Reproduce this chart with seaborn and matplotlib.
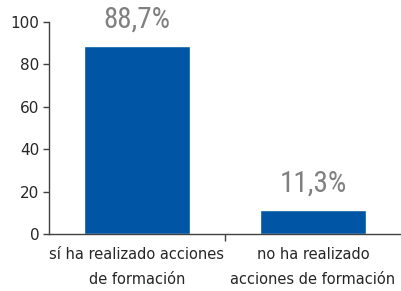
import matplotlib
matplotlib.use("Agg")
import matplotlib.pyplot as plt
import seaborn as sns

# Chart data
categories = ["sí ha realizado acciones\nde formación", "no ha realizado\nacciones de formación"]
values = [88.7, 11.3]
value_labels = ["88,7%", "11,3%"]
y_ticks = [0, 20, 40, 60, 80, 100]

sns.set_style("white")
plt.rcParams['font.family'] = ['DejaVu Sans']

fig = plt.figure(figsize=(4.01, 2.91), dpi=100)
ax = fig.add_axes([0.122, 0.196, 0.878, 0.728])

sns.barplot(x=categories, y=values, color="#0055a4", saturation=1, width=0.6, ax=ax)

# value labels above the bars
for i, (v, lab) in enumerate(zip(values, value_labels)):
    ax.text(i, v + 6, lab, ha="center", va="bottom", fontsize=21, color="#808080",
            family=["Roboto Condensed", "Liberation Sans Narrow", "Roboto"])

ax.set_ylim(0, 100)
ax.set_xlim(-0.5, 1.5)
ax.set_yticks(y_ticks)
ax.tick_params(axis="y", left=True, direction="out", length=4, width=1, color="#404040", labelsize=11, pad=3)
ax.tick_params(axis="x", which="major", bottom=False, labelsize=10.5, pad=6)
ax.set_xticks([0.5], minor=True)
ax.tick_params(axis="x", which="minor", bottom=True, direction="out", length=5, width=1, color="#404040")
for lab in ax.get_xticklabels():
    lab.set_linespacing(1.8)

for s in ["top", "right"]:
    ax.spines[s].set_visible(False)
for s in ["left", "bottom"]:
    ax.spines[s].set_color("#404040")
    ax.spines[s].set_linewidth(1)

fig.savefig("out.png", dpi=100)
